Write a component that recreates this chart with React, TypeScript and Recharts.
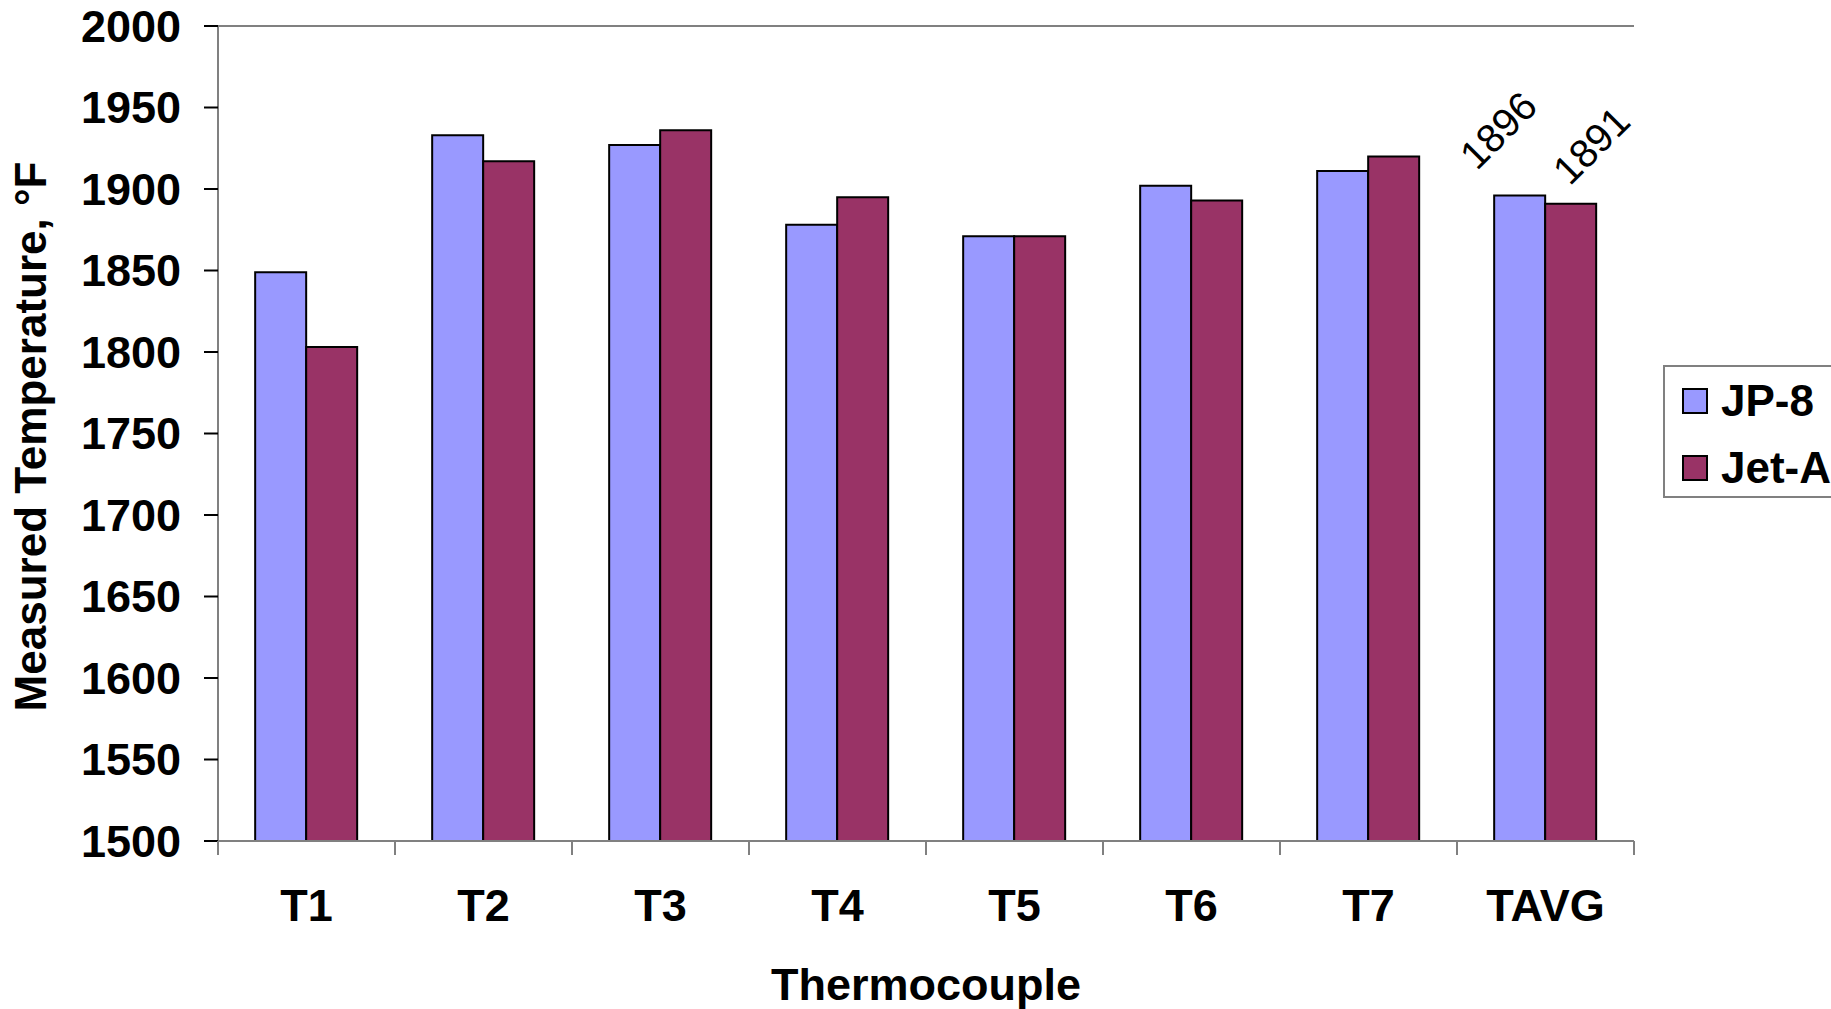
import React from 'react';
import {
  BarChart,
  Bar,
  XAxis,
  YAxis,
  Legend,
  LabelList,
  ReferenceLine,
} from 'recharts';

const categories = ['T1', 'T2', 'T3', 'T4', 'T5', 'T6', 'T7', 'TAVG'];
const jp8Values = [1849, 1933, 1927, 1878, 1871, 1902, 1911, 1896];
const jetAValues = [1803, 1917, 1936, 1895, 1871, 1893, 1920, 1891];
// only the average bars carry a value label
const jp8Labels = [null, null, null, null, null, null, null, 1896];
const jetALabels = [null, null, null, null, null, null, null, 1891];
const yTicks = [1500, 1550, 1600, 1650, 1700, 1750, 1800, 1850, 1900, 1950, 2000];

const data = categories.map((name, i) => ({
  name,
  jp8: jp8Values[i],
  jetA: jetAValues[i],
  jp8Label: jp8Labels[i],
  jetALabel: jetALabels[i],
}));

const FONT = '"Liberation Sans", Arial, sans-serif';
const JP8_COLOR = '#9999FF';
const JETA_COLOR = '#993366';
const GRAY = '#808080';
const X_TICK_SIZE = 14;
const X_TICK_MARGIN = 48;

// category label plus the Excel-style tick marks between categories
const CategoryTick = (props: any) => {
  const { x, y, payload, index, visibleTicksCount } = props;
  const half = payload.offset || 0;
  const axisY = y - X_TICK_MARGIN;
  const isLast = index === visibleTicksCount - 1;
  return (
    <g>
      <line x1={x - half} x2={x - half} y1={axisY} y2={axisY + X_TICK_SIZE} stroke={GRAY} strokeWidth={2} />
      {isLast && (
        <line x1={x + half} x2={x + half} y1={axisY} y2={axisY + X_TICK_SIZE} stroke={GRAY} strokeWidth={2} />
      )}
      <text
        x={x}
        y={y}
        dy="0.71em"
        textAnchor="middle"
        fontFamily={FONT}
        fontWeight="bold"
        fontSize={45}
        fill="#000"
      >
        {payload.value}
      </text>
    </g>
  );
};

const makeRotatedLabel = (dx: number, dy: number) => (props: any) => {
  const { x, y, width, value } = props;
  if (value == null) return null;
  const sx = Number(x) + Number(width) / 2 + dx;
  const sy = Number(y) + dy;
  return (
    <text
      x={sx}
      y={sy}
      transform={`rotate(-45, ${sx}, ${sy})`}
      textAnchor="start"
      fontFamily={FONT}
      fontSize={40}
      fill="#000"
    >
      {value}
    </text>
  );
};

const YTitle = (props: any) => {
  const { viewBox } = props;
  const x = viewBox.x + 46;
  const y = viewBox.y + viewBox.height / 2 + 3;
  return (
    <text
      x={x}
      y={y}
      transform={`rotate(-90, ${x}, ${y})`}
      textAnchor="middle"
      fontFamily={FONT}
      fontWeight="bold"
      fontSize={44}
      fill="#000"
    >
      Measured Temperature, °F
    </text>
  );
};

const XTitle = (props: any) => {
  const { viewBox } = props;
  return (
    <text
      x={viewBox.x + viewBox.width / 2}
      y={viewBox.y + 159}
      textAnchor="middle"
      fontFamily={FONT}
      fontWeight="bold"
      fontSize={45}
      fill="#000"
    >
      Thermocouple
    </text>
  );
};

const LegendBox = ({ payload }: any) => (
  <div
    style={{
      border: `2px solid ${GRAY}`,
      width: 200,
      height: 133,
      boxSizing: 'border-box',
      paddingTop: 8,
      background: '#fff',
    }}
  >
    {(payload || []).map((entry: any) => (
      <div
        key={entry.value}
        style={{ display: 'flex', alignItems: 'center', height: 52, marginBottom: 15 }}
      >
        <span
          style={{
            display: 'inline-block',
            width: 26,
            height: 26,
            boxSizing: 'border-box',
            border: '2px solid #000',
            background: entry.color,
            marginLeft: 17,
            marginRight: 13,
            flexShrink: 0,
          }}
        />
        <span
          style={{
            fontFamily: FONT,
            fontWeight: 'bold',
            fontSize: 44,
            color: '#000',
            whiteSpace: 'nowrap',
          }}
        >
          {entry.value}
        </span>
      </div>
    ))}
  </div>
);

export default function App() {
  return (
    <div
      style={{
        position: 'absolute',
        left: 0,
        top: 0,
        width: 1831,
        height: 1009,
        overflow: 'hidden',
        background: '#fff',
      }}
    >
      <BarChart
        width={1831}
        height={1009}
        data={data}
        margin={{ top: 26, right: 197, left: 0, bottom: 0 }}
        barCategoryGap="21%"
        barGap={0}
      >
        <XAxis
          dataKey="name"
          height={168}
          axisLine={{ stroke: GRAY, strokeWidth: 2 }}
          tickLine={false}
          tickSize={X_TICK_SIZE}
          tickMargin={X_TICK_MARGIN - X_TICK_SIZE}
          interval={0}
          tick={<CategoryTick />}
          label={<XTitle />}
        />
        <YAxis
          domain={[1500, 2000]}
          ticks={yTicks}
          width={218}
          allowDataOverflow
          axisLine={{ stroke: GRAY, strokeWidth: 2 }}
          tickLine={{ stroke: '#000', strokeWidth: 2 }}
          tickSize={14}
          tickMargin={23}
          tick={{ fontSize: 45, fontWeight: 'bold', fill: '#000', fontFamily: FONT }}
          label={<YTitle />}
        />
        <YAxis
          yAxisId="frame"
          orientation="right"
          domain={[1500, 2000]}
          width={0}
          tick={false}
          tickLine={false}
          axisLine={{ stroke: GRAY, strokeWidth: 2 }}
        />
        <ReferenceLine y={2000} stroke={GRAY} strokeWidth={2} />
        <Legend
          layout="horizontal"
          verticalAlign="middle"
          align="right"
          content={<LegendBox />}
          wrapperStyle={{ left: 1663, top: 365, width: 0, height: 0, overflow: 'visible' }}
        />
        <Bar
          dataKey="jp8"
          name="JP-8"
          fill={JP8_COLOR}
          stroke="#000"
          strokeWidth={2}
          isAnimationActive={false}
        >
          <LabelList dataKey="jp8Label" content={makeRotatedLabel(-43, -24)} />
        </Bar>
        <Bar
          dataKey="jetA"
          name="Jet-A"
          fill={JETA_COLOR}
          stroke="#000"
          strokeWidth={2}
          isAnimationActive={false}
        >
          <LabelList dataKey="jetALabel" content={makeRotatedLabel(-1, -17)} />
        </Bar>
      </BarChart>
    </div>
  );
}
